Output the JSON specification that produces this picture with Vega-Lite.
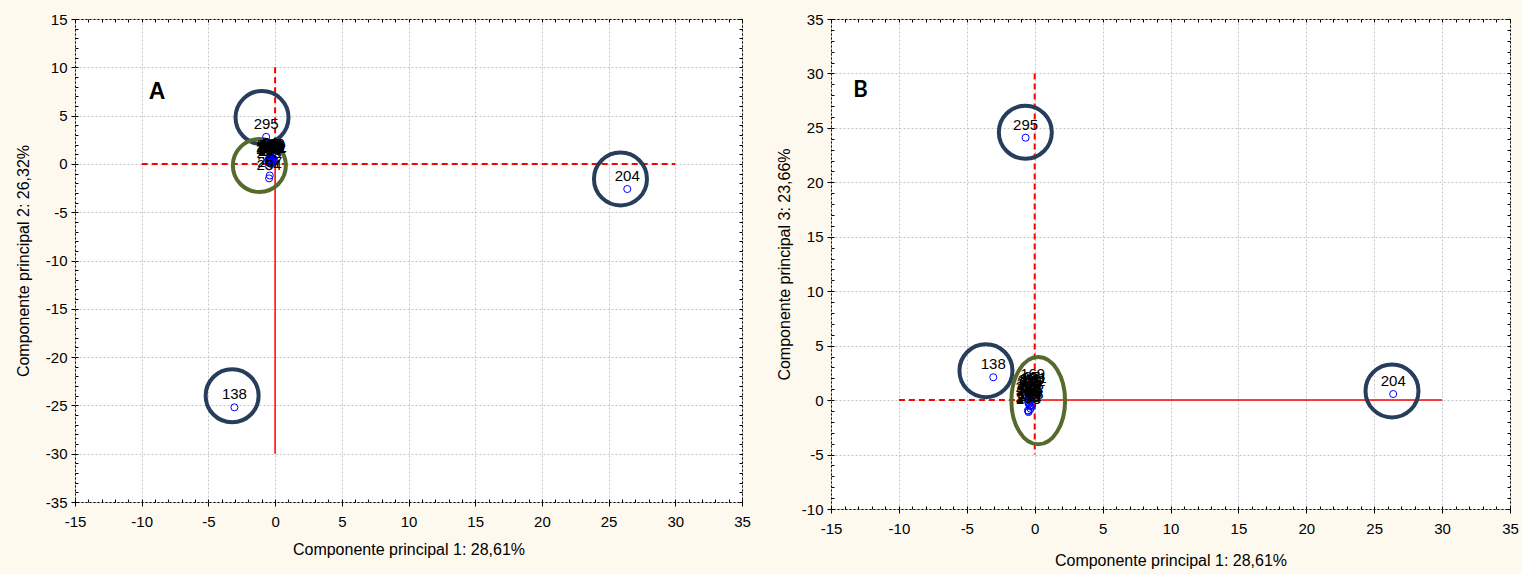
{
  "$schema": "https://vega.github.io/schema/vega-lite/v6.json",
  "background": "#fdf9ef",
  "padding": {"left": 14, "top": 11, "right": 5, "bottom": 5},
  "bounds": "flush",
  "spacing": 89,
  "config": {
    "view": {"fill": "white", "stroke": "black", "strokeWidth": 1},
    "axis": {
      "labelFont": "Liberation Sans", "labelFontSize": 15, "labelColor": "black",
      "titleFont": "Liberation Sans", "titleFontSize": 16, "titleFontWeight": "normal", "titleColor": "black",
      "gridColor": "#c4c4c4", "gridDash": [2, 2], "gridWidth": 1,
      "domain": false, "tickColor": "black", "labelOverlap": false, "labelFlush": false
    }
  },
  "datasets": {
    "obs": [
      {"id": "138", "pc1": -3.05, "pc2": -25.2, "pc3": 2.1},
      {"id": "204", "pc1": 26.4, "pc2": -2.6, "pc3": 0.56},
      {"id": "295", "pc1": -0.67, "pc2": 2.8, "pc3": 24.1},
      {"id": "12", "pc1": -0.42, "pc2": 0.55, "pc3": 0.85},
      {"id": "35", "pc1": -0.30, "pc2": 0.70, "pc3": 0.40},
      {"id": "48", "pc1": -0.48, "pc2": 0.30, "pc3": -0.20},
      {"id": "67", "pc1": -0.22, "pc2": 0.45, "pc3": 0.95},
      {"id": "81", "pc1": -0.35, "pc2": 0.80, "pc3": 0.10},
      {"id": "96", "pc1": -0.18, "pc2": 0.20, "pc3": -0.45},
      {"id": "110", "pc1": -0.40, "pc2": 0.10, "pc3": 0.65},
      {"id": "123", "pc1": -0.27, "pc2": 0.60, "pc3": -0.60},
      {"id": "152", "pc1": -0.45, "pc2": 0.40, "pc3": 0.30},
      {"id": "169", "pc1": -0.15, "pc2": 0.50, "pc3": 1.20},
      {"id": "181", "pc1": -0.33, "pc2": 0.25, "pc3": -0.10},
      {"id": "190", "pc1": -0.20, "pc2": 0.75, "pc3": 0.70},
      {"id": "215", "pc1": -0.38, "pc2": 0.15, "pc3": 0.50},
      {"id": "227", "pc1": -0.30, "pc2": 0.00, "pc3": -0.80},
      {"id": "233", "pc1": -0.25, "pc2": 0.35, "pc3": 0.20},
      {"id": "248", "pc1": -0.43, "pc2": 0.65, "pc3": -0.35},
      {"id": "262", "pc1": -0.12, "pc2": 0.30, "pc3": 0.55},
      {"id": "270", "pc1": -0.36, "pc2": 0.50, "pc3": -0.50},
      {"id": "281", "pc1": -0.05, "pc2": 0.40, "pc3": 0.80},
      {"id": "288", "pc1": -0.50, "pc2": 0.20, "pc3": 0.05},
      {"id": "257", "pc1": -0.40, "pc2": -1.20, "pc3": -0.35},
      {"id": "254", "pc1": -0.45, "pc2": -1.50, "pc3": -1.00},
      {"id": "273", "pc1": -0.45, "pc2": -0.25, "pc3": -1.10},
      {"id": "240", "pc1": -0.50, "pc2": 0.40, "pc3": -0.95}
    ],
    "ringsA": [{"x": -0.98, "y": 4.8}, {"x": 25.89, "y": -1.56}, {"x": -3.22, "y": -24.0}],
    "ellA": [{"x": -1.18, "y": -0.17}],
    "ringsB": [{"x": -0.69, "y": 24.6}, {"x": 26.31, "y": 0.84}, {"x": -3.59, "y": 2.7}],
    "ellB": [{"x": 0.26, "y": -0.05}],
    "dashA": [{"x": -10, "x2": 30, "y": 0, "y2": 0}, {"x": 0, "x2": 0, "y": 10, "y2": 0}],
    "solidA": [{"x": 0, "x2": 0, "y": 0, "y2": -30}],
    "dashB": [{"x": -10, "x2": 0, "y": 0, "y2": 0}, {"x": 0, "x2": 0, "y": 30, "y2": -5}],
    "solidB": [{"x": 0, "x2": 30, "y": 0, "y2": 0}],
    "letterA": [{"t": "A", "x": -8.85, "y": 7.47}],
    "letterB": [{"t": "B", "x": -12.83, "y": 28.45}]
  },
  "hconcat": [
    {
      "width": 667, "height": 483,
      "resolve": {"axis": {"x": "independent", "y": "independent"}},
      "layer": [
        {
          "data": {"name": "dashA"},
          "mark": {"type": "rule", "color": "#ff0000", "strokeWidth": 2, "strokeDash": [6, 4]},
          "encoding": {
            "x": {"field": "x", "type": "quantitative", "scale": {"domain": [-15, 35], "nice": false, "zero": false},
              "axis": {"orient": "bottom", "values": [-15, -10, -5, 0, 5, 10, 15, 20, 25, 30, 35], "labelExpr": "toString(datum.value)", "grid": true, "tickSize": 4, "labelPadding": 8, "title": "Componente principal 1: 28,61%", "titlePadding": 12}},
            "x2": {"field": "x2"},
            "y": {"field": "y", "type": "quantitative", "scale": {"domain": [-35, 15], "nice": false, "zero": false},
              "axis": {"orient": "left", "values": [-35, -30, -25, -20, -15, -10, -5, 0, 5, 10, 15], "labelExpr": "toString(datum.value)", "grid": true, "tickSize": 4, "labelPadding": 4, "title": "Componente principal 2: 26,32%", "titlePadding": 14}},
            "y2": {"field": "y2"}
          }
        },
        {
          "data": {"name": "solidA"},
          "mark": {"type": "rule", "color": "#ff0000", "strokeWidth": 1.5},
          "encoding": {
            "x": {"field": "x", "type": "quantitative", "scale": {"domain": [-15, 35], "nice": false, "zero": false},
              "axis": {"orient": "top", "values": [-15,-14,-13,-12,-11,-10,-9,-8,-7,-6,-5,-4,-3,-2,-1,0,1,2,3,4,5,6,7,8,9,10,11,12,13,14,15,16,17,18,19,20,21,22,23,24,25,26,27,28,29,30,31,32,33,34,35], "labels": false, "grid": false, "tickSize": -3, "title": null}},
            "x2": {"field": "x2"},
            "y": {"field": "y", "type": "quantitative", "scale": {"domain": [-35, 15], "nice": false, "zero": false},
              "axis": {"orient": "right", "values": [-35,-34,-33,-32,-31,-30,-29,-28,-27,-26,-25,-24,-23,-22,-21,-20,-19,-18,-17,-16,-15,-14,-13,-12,-11,-10,-9,-8,-7,-6,-5,-4,-3,-2,-1,0,1,2,3,4,5,6,7,8,9,10,11,12,13,14,15], "labels": false, "grid": false, "tickSize": -3, "title": null}},
            "y2": {"field": "y2"}
          }
        },
        {
          "data": {"name": "ringsA"},
          "mark": {"type": "point", "shape": "circle", "filled": false, "stroke": "#263e5c", "strokeWidth": 4, "size": 2809, "opacity": 1},
          "encoding": {
            "x": {"field": "x", "type": "quantitative", "scale": {"domain": [-15, 35], "nice": false, "zero": false},
              "axis": {"orient": "bottom", "values": [-15,-14,-13,-12,-11,-10,-9,-8,-7,-6,-5,-4,-3,-2,-1,0,1,2,3,4,5,6,7,8,9,10,11,12,13,14,15,16,17,18,19,20,21,22,23,24,25,26,27,28,29,30,31,32,33,34,35], "labels": false, "grid": false, "tickSize": -3, "title": null}},
            "y": {"field": "y", "type": "quantitative", "scale": {"domain": [-35, 15], "nice": false, "zero": false},
              "axis": {"orient": "left", "values": [-35,-34,-33,-32,-31,-30,-29,-28,-27,-26,-25,-24,-23,-22,-21,-20,-19,-18,-17,-16,-15,-14,-13,-12,-11,-10,-9,-8,-7,-6,-5,-4,-3,-2,-1,0,1,2,3,4,5,6,7,8,9,10,11,12,13,14,15], "labels": false, "grid": false, "tickSize": -3, "title": null}}
          }
        },
        {
          "data": {"name": "ellA"},
          "mark": {"type": "point", "shape": "circle", "filled": false, "stroke": "#566a2e", "strokeWidth": 4, "size": 2809, "opacity": 1},
          "encoding": {
            "x": {"field": "x", "type": "quantitative", "scale": {"domain": [-15, 35], "nice": false, "zero": false}, "axis": null},
            "y": {"field": "y", "type": "quantitative", "scale": {"domain": [-35, 15], "nice": false, "zero": false}, "axis": null}
          }
        },
        {
          "data": {"name": "obs"},
          "mark": {"type": "point", "shape": "circle", "filled": false, "stroke": "#0000ff", "strokeWidth": 1, "size": 50, "opacity": 1},
          "encoding": {
            "x": {"field": "pc1", "type": "quantitative", "scale": {"domain": [-15, 35], "nice": false, "zero": false}, "axis": null},
            "y": {"field": "pc2", "type": "quantitative", "scale": {"domain": [-35, 15], "nice": false, "zero": false}, "axis": null}
          }
        },
        {
          "data": {"name": "obs"},
          "mark": {"type": "text", "font": "Liberation Sans", "fontSize": 15, "color": "black", "dy": -13, "align": "center", "baseline": "middle"},
          "encoding": {
            "x": {"field": "pc1", "type": "quantitative", "scale": {"domain": [-15, 35], "nice": false, "zero": false}, "axis": null},
            "y": {"field": "pc2", "type": "quantitative", "scale": {"domain": [-35, 15], "nice": false, "zero": false}, "axis": null},
            "text": {"field": "id"}
          }
        },
        {
          "data": {"name": "letterA"},
          "mark": {"type": "text", "font": "Liberation Sans", "fontSize": 23, "fontWeight": "bold", "color": "black", "align": "center", "baseline": "middle"},
          "encoding": {
            "x": {"field": "x", "type": "quantitative", "scale": {"domain": [-15, 35], "nice": false, "zero": false}, "axis": null},
            "y": {"field": "y", "type": "quantitative", "scale": {"domain": [-35, 15], "nice": false, "zero": false}, "axis": null},
            "text": {"field": "t"}
          }
        }
      ]
    },
    {
      "width": 679, "height": 490,
      "resolve": {"axis": {"x": "independent", "y": "independent"}},
      "layer": [
        {
          "data": {"name": "dashB"},
          "mark": {"type": "rule", "color": "#ff0000", "strokeWidth": 2, "strokeDash": [6, 4]},
          "encoding": {
            "x": {"field": "x", "type": "quantitative", "scale": {"domain": [-15, 35], "nice": false, "zero": false},
              "axis": {"orient": "bottom", "values": [-15, -10, -5, 0, 5, 10, 15, 20, 25, 30, 35], "labelExpr": "toString(datum.value)", "grid": true, "tickSize": 4, "labelPadding": 8, "title": "Componente principal 1: 28,61%", "titlePadding": 16}},
            "x2": {"field": "x2"},
            "y": {"field": "y", "type": "quantitative", "scale": {"domain": [-10, 35], "nice": false, "zero": false},
              "axis": {"orient": "left", "values": [-10, -5, 0, 5, 10, 15, 20, 25, 30, 35], "labelExpr": "toString(datum.value)", "grid": true, "tickSize": 4, "labelPadding": 4, "title": "Componente principal 3: 23,66%", "titlePadding": 9}},
            "y2": {"field": "y2"}
          }
        },
        {
          "data": {"name": "solidB"},
          "mark": {"type": "rule", "color": "#ff0000", "strokeWidth": 1.5},
          "encoding": {
            "x": {"field": "x", "type": "quantitative", "scale": {"domain": [-15, 35], "nice": false, "zero": false},
              "axis": {"orient": "top", "values": [-15,-14,-13,-12,-11,-10,-9,-8,-7,-6,-5,-4,-3,-2,-1,0,1,2,3,4,5,6,7,8,9,10,11,12,13,14,15,16,17,18,19,20,21,22,23,24,25,26,27,28,29,30,31,32,33,34,35], "labels": false, "grid": false, "tickSize": -3, "title": null}},
            "x2": {"field": "x2"},
            "y": {"field": "y", "type": "quantitative", "scale": {"domain": [-10, 35], "nice": false, "zero": false},
              "axis": {"orient": "right", "values": [-10,-9,-8,-7,-6,-5,-4,-3,-2,-1,0,1,2,3,4,5,6,7,8,9,10,11,12,13,14,15,16,17,18,19,20,21,22,23,24,25,26,27,28,29,30,31,32,33,34,35], "labels": false, "grid": false, "tickSize": -3, "title": null}},
            "y2": {"field": "y2"}
          }
        },
        {
          "data": {"name": "ringsB"},
          "mark": {"type": "point", "shape": "circle", "filled": false, "stroke": "#263e5c", "strokeWidth": 4, "size": 2809, "opacity": 1},
          "encoding": {
            "x": {"field": "x", "type": "quantitative", "scale": {"domain": [-15, 35], "nice": false, "zero": false},
              "axis": {"orient": "bottom", "values": [-15,-14,-13,-12,-11,-10,-9,-8,-7,-6,-5,-4,-3,-2,-1,0,1,2,3,4,5,6,7,8,9,10,11,12,13,14,15,16,17,18,19,20,21,22,23,24,25,26,27,28,29,30,31,32,33,34,35], "labels": false, "grid": false, "tickSize": -3, "title": null}},
            "y": {"field": "y", "type": "quantitative", "scale": {"domain": [-10, 35], "nice": false, "zero": false},
              "axis": {"orient": "left", "values": [-10,-9,-8,-7,-6,-5,-4,-3,-2,-1,0,1,2,3,4,5,6,7,8,9,10,11,12,13,14,15,16,17,18,19,20,21,22,23,24,25,26,27,28,29,30,31,32,33,34,35], "labels": false, "grid": false, "tickSize": -3, "title": null}}
          }
        },
        {
          "data": {"name": "ellB"},
          "mark": {"type": "point", "shape": "M0,-1A0.615,1 0 1,1 0,1A0.615,1 0 1,1 0,-1Z", "filled": false, "stroke": "#566a2e", "strokeWidth": 4, "size": 7621, "opacity": 1},
          "encoding": {
            "x": {"field": "x", "type": "quantitative", "scale": {"domain": [-15, 35], "nice": false, "zero": false}, "axis": null},
            "y": {"field": "y", "type": "quantitative", "scale": {"domain": [-10, 35], "nice": false, "zero": false}, "axis": null}
          }
        },
        {
          "data": {"name": "obs"},
          "mark": {"type": "point", "shape": "circle", "filled": false, "stroke": "#0000ff", "strokeWidth": 1, "size": 50, "opacity": 1},
          "encoding": {
            "x": {"field": "pc1", "type": "quantitative", "scale": {"domain": [-15, 35], "nice": false, "zero": false}, "axis": null},
            "y": {"field": "pc3", "type": "quantitative", "scale": {"domain": [-10, 35], "nice": false, "zero": false}, "axis": null}
          }
        },
        {
          "data": {"name": "obs"},
          "mark": {"type": "text", "font": "Liberation Sans", "fontSize": 15, "color": "black", "dy": -13, "align": "center", "baseline": "middle"},
          "encoding": {
            "x": {"field": "pc1", "type": "quantitative", "scale": {"domain": [-15, 35], "nice": false, "zero": false}, "axis": null},
            "y": {"field": "pc3", "type": "quantitative", "scale": {"domain": [-10, 35], "nice": false, "zero": false}, "axis": null},
            "text": {"field": "id"}
          }
        },
        {
          "data": {"name": "letterB"},
          "mark": {"type": "text", "font": "Lato", "fontSize": 22, "fontWeight": "bold", "color": "black", "align": "center", "baseline": "middle"},
          "encoding": {
            "x": {"field": "x", "type": "quantitative", "scale": {"domain": [-15, 35], "nice": false, "zero": false}, "axis": null},
            "y": {"field": "y", "type": "quantitative", "scale": {"domain": [-10, 35], "nice": false, "zero": false}, "axis": null},
            "text": {"field": "t"}
          }
        }
      ]
    }
  ]
}
